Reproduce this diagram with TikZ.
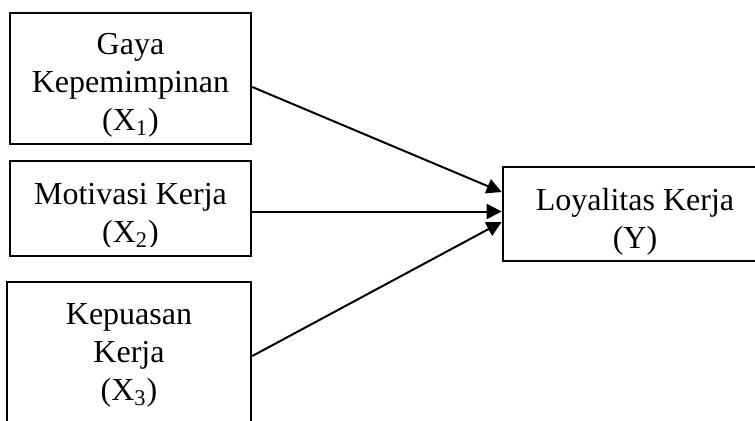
\documentclass[tikz,border=0pt]{standalone}
\usepackage{fontspec}
\setmainfont{Liberation Serif}
\usetikzlibrary{arrows.meta}

\begin{document}
\begin{tikzpicture}[x=0.5pt,y=-0.5pt,
    box/.style={draw,line width=1.3pt,inner sep=0pt},
    txt/.style={align=center,inner sep=0pt,font=\fontsize{16}{19}\selectfont},
    arr/.style={line width=1pt,-{Triangle[length=7.5pt,width=7.5pt]}}]
    \useasboundingbox (0,0) rectangle (755,420);
    \clip (0,0) rectangle (755,420);
    \node [box,minimum width=120.5pt,minimum height=65.5pt] (X1) at (130.5,78.5){};
    \node [box,minimum width=120.5pt,minimum height=47.5pt] (X2) at (130.5,208.5){};
    \node [box,minimum width=122pt,minimum height=74pt] (X3) at (129,356){};
    \node [box,minimum width=132pt,minimum height=47pt] (Y) at (635,214){};

    \node [txt] (X1t) at (130.5,85.5){Gaya\\Kepemimpinan\\(X\textsubscript{1})};
    \begin{scope}
        \clip (0,0) rectangle (755,246.5);
        \node [txt] (X2t) at (130.5,216){Motivasi Kerja\\(X\textsubscript{2})};
    \end{scope}
    \node [txt] (X3t) at (129,355.5){Kepuasan\\Kerja\\(X\textsubscript{3})};
    \node [txt] (Yt) at (635,221.5){Loyalitas Kerja\\(Y)};

    \draw[arr] ([yshift=-4.25pt]X1.east)--([yshift=11pt]Y.west);
    \draw[arr] ([yshift=-1.5pt]X2.east)--([yshift=1.25pt]Y.west);
    \draw[arr] (X3.east)--([yshift=-4pt]Y.west);
\end{tikzpicture}
\end{document}
